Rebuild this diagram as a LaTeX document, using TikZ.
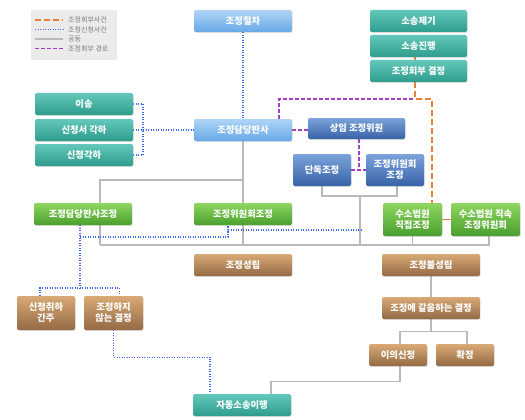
\documentclass[tikz,border=0pt]{standalone}
\usepackage{fontspec}
\newfontfamily\kr{Noto Sans CJK KR}
\usetikzlibrary{shadows,calc}
\pgfdeclarelayer{bg}
\pgfdeclarelayer{paper}
\pgfsetlayers{paper,bg,main}
\definecolor{tealT}{HTML}{63C8BB}
\definecolor{tealB}{HTML}{2E9C8C}
\definecolor{lblueT}{HTML}{AFD5F6}
\definecolor{lblueB}{HTML}{68A8E6}
\definecolor{dblueT}{HTML}{7BA3DA}
\definecolor{dblueB}{HTML}{3863A8}
\definecolor{greenT}{HTML}{8ED660}
\definecolor{greenB}{HTML}{4A9F2E}
\definecolor{brownT}{HTML}{D9AA76}
\definecolor{brownB}{HTML}{946A45}
\definecolor{lineGray}{HTML}{B9B9B9}
\definecolor{orangeL}{HTML}{E8803A}
\definecolor{blueL}{HTML}{3F68F0}
\definecolor{purpleL}{HTML}{A23EC2}
\definecolor{legendBg}{HTML}{EBEBEB}
\definecolor{legendTx}{HTML}{7A7A7A}
\tikzset{
  box/.style={rounded corners=2pt, text=white, align=center,
    font=\kr\bfseries\fontsize{9.3}{11}\selectfont, inner sep=1pt,
    drop shadow={opacity=0.25, shadow xshift=0.7pt, shadow yshift=-0.9pt}},
  tealbox/.style={box, top color=tealT, bottom color=tealB},
  lbluebox/.style={box, top color=lblueT, bottom color=lblueB},
  dbluebox/.style={box, top color=dblueT, bottom color=dblueB},
  greenbox/.style={box, top color=greenT, bottom color=greenB},
  brownbox/.style={box, top color=brownT, bottom color=brownB},
  wide/.style={minimum width=98pt, minimum height=22pt},
  narrow/.style={minimum width=58pt, minimum height=#1},
  grayline/.style={draw=lineGray, line width=1.2pt},
  orangeline/.style={draw=orangeL, line width=1.3pt, dash pattern=on 6pt off 3pt},
  blueline/.style={draw=blueL, line width=1.2pt, dash pattern=on 1.2pt off 1.3pt},
  purpleline/.style={draw=purpleL, line width=1.1pt, dash pattern=on 3.5pt off 2.5pt},
  legtext/.style={text=legendTx, font=\kr\fontsize{7}{8}\selectfont, anchor=west, inner sep=0pt}
}
\begin{document}
\begin{tikzpicture}[x=1pt,y=-1pt]
\begin{pgfonlayer}{paper}
\fill[white] (0,0) rectangle (525,420);
\end{pgfonlayer}
\useasboundingbox (0,0) rectangle (525,420);
% legend
\fill[legendBg] (31,10) rectangle (117,60);
\draw[orangeline] (35,20) -- (63,20);
\draw[blueline] (35,29.5) -- (63,29.5);
\draw[grayline] (35,39) -- (63,39);
\draw[purpleline] (35,48.5) -- (63,48.5);
\node[legtext] (lg1) at (68,20) {조정회부사건};
\node[legtext] (lg2) at (68,29.5) {조정신청사건};
\node[legtext] (lg3) at (68,39) {공동};
\node[legtext] (lg4) at (68,48.5) {조정회부 경로};
% nodes
\node[lbluebox, wide] (jeolcha) at (243,21) {조정절차};
\node[tealbox, wide, minimum width=97pt] (jegi) at (418.5,21) {소송제기};
\node[tealbox, wide, minimum width=97pt] (jinhaeng) at (418.5,46) {소송진행};
\node[tealbox, wide, minimum width=97pt] (hoebu) at (418.5,71) {조정회부 결정};
\node[tealbox, wide] (isong) at (84,104) {이송};
\node[tealbox, wide] (seogakha) at (84,130) {신청서 각하};
\node[tealbox, wide] (singakha) at (84,155) {신청각하};
\node[lbluebox, wide] (jd) at (243,130) {조정담당판사};
\node[dbluebox, wide, minimum width=97pt, minimum height=21pt] (sangim) at (356.5,128.5) {상임 조정위원};
\node[dbluebox, narrow=32pt] (dandok) at (322,170) {단독조정};
\node[dbluebox, narrow=32pt] (wiwon) at (395,170) {조정위원회\\조정};
\node[greenbox, wide] (jdj) at (83,214) {조정담당판사조정};
\node[greenbox, wide] (wj) at (243,214) {조정위원회조정};
\node[greenbox, narrow=33pt, minimum width=59pt] (jikjeop) at (412.5,219.5) {수소법원\\직접조정};
\node[greenbox, narrow=33pt, minimum width=69pt] (jiksok) at (485.5,219.5) {수소법원 직속\\조정위원회};
\node[brownbox, wide] (seongnip) at (243,265) {조정성립};
\node[brownbox, wide] (bul) at (431,265) {조정불성립};
\node[brownbox, narrow=34pt] (chwiha) at (46,313) {신청취하\\간주};
\node[brownbox, narrow=34pt, minimum width=59pt] (siji) at (113.5,313) {조정하지\\않는 결정};
\node[brownbox, wide] (galeum) at (431,308) {조정에 갈음하는 결정};
\node[brownbox, narrow=22pt] (iui) at (398,355) {이의신청};
\node[brownbox, narrow=22pt] (hwak) at (465,355) {확정};
\node[tealbox, wide] (jadong) at (242,405) {자동소송이행};
% connectors
\begin{pgfonlayer}{bg}
\coordinate (busL) at (100,245);
\coordinate (k1) at (243,180);
\coordinate (k2) at (360,196);
\coordinate (bluebar) at (143,130);
\coordinate (bd1) at (80,237);
\coordinate (bd2) at (228,230);
\coordinate (bd3) at (362,230);
\coordinate (bd4) at (80,288);
\coordinate (pur1) at (415,99);
% gray
\draw[grayline] (jd.south) -- (jd.south |- busL);
\draw[grayline] (k1) -| (busL);
\draw[grayline] (busL) -- ([xshift=3.5pt]jiksok.south |- busL) -- ([xshift=3.5pt]jiksok.south);
\draw[grayline] (dandok.south) |- (k2) -| ([xshift=2pt]wiwon.south);
\draw[grayline] (k2) -- (k2 |- busL);
\draw[grayline] (jikjeop.south) -- (jikjeop.south |- busL);
\draw[grayline] (bul.south) -- (galeum.north);
\draw[grayline] (galeum.south) -- ++(0,12) coordinate (k3) -| ([xshift=2pt]iui.north);
\draw[grayline] (k3) -| ([xshift=2pt]hwak.north);
\draw[grayline] ([xshift=2pt]iui.south) -- ++(0,15) -| ([xshift=29pt]jadong.north);
% blue dotted
\draw[blueline] (jeolcha.south) -- (jd.north);
\draw[blueline] (seogakha.east) -- (jd.west);
\draw[blueline] (isong.east) -| (bluebar);
\draw[blueline] (singakha.east) -| (bluebar);
\draw[blueline] ([xshift=-3pt]jdj.south) -- (bd4);
\draw[blueline] (bd1) -- (bd1 -| bd2) -- ([xshift=-15pt]wj.south);
\draw[blueline] (bd2) -- (bd3);
\draw[blueline] ([xshift=-6pt]chwiha.north) |- (bd4) -| ([xshift=6pt]siji.north);
\draw[blueline] (siji.south) -- ++(0,27) -| ([xshift=-32pt]jadong.north);
% purple
\draw[purpleline] ([xshift=36pt]jd.north) |- (pur1);
\draw[purpleline] (jd.east) -- (jd.east -| sangim.west);
\draw[purpleline] ([xshift=2.5pt]sangim.south) -- ([xshift=2.5pt]sangim.south |- dandok.east);
\draw[purpleline] (dandok.east) -- (wiwon.west);
% orange
\draw[orangeline] ([xshift=-3.5pt]jinhaeng.south) -- ([xshift=-3.5pt]hoebu.north);
\draw[orangeline] ([xshift=-3.5pt]hoebu.south) -- (pur1) -| ([xshift=19.5pt]jikjeop.north);
\draw[draw=orangeL, line width=1.6pt] (jikjeop.east) -- (jiksok.west);
\end{pgfonlayer}
\end{tikzpicture}
\end{document}
